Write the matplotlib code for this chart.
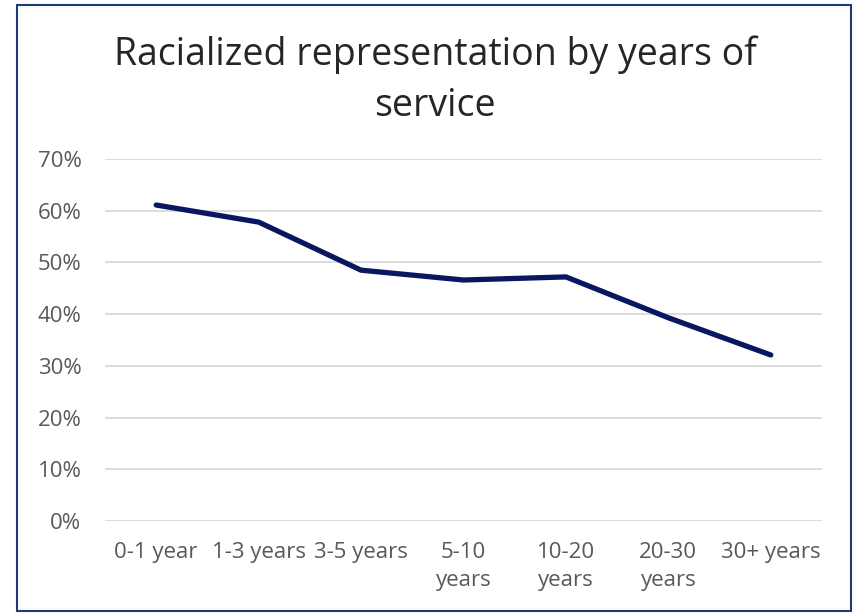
import matplotlib
matplotlib.use("Agg")
import matplotlib.pyplot as plt
from matplotlib.patches import Rectangle
from matplotlib.ticker import FuncFormatter

categories = ["0-1 year", "1-3 years", "3-5 years", "5-10\nyears", "10-20\nyears", "20-30\nyears", "30+ years"]
values = [61.1, 57.8, 48.5, 46.6, 47.2, 39.3, 32.1]
yticks = [0, 10, 20, 30, 40, 50, 60, 70]

plt.rcParams['font.family'] = ['Open Sans', 'DejaVu Sans']

W, H = 856, 613
fig = plt.figure(figsize=(W/100, H/100), dpi=100)
ax = fig.add_axes([105/W, 1-521/H, (822-105)/W, (521-159)/H])

x = list(range(len(categories)))
ax.plot(x, values, color='#0A1660', lw=3.8, solid_capstyle='round', solid_joinstyle='round')
ax.set_xlim(-0.5, len(categories)-0.5)
ax.set_ylim(0, 70)
ax.set_yticks(yticks)
ax.yaxis.set_major_formatter(FuncFormatter(lambda v, p: f"{int(v)}%"))
ax.set_xticks(x)
ax.set_xticklabels(categories, linespacing=1.45)
ax.grid(axis='y', color='#D9D9D9', lw=1.3)
ax.set_axisbelow(True)
for s in ax.spines.values():
    s.set_visible(False)
ax.tick_params(axis='both', length=0, labelsize=16, colors='#595959')
ax.tick_params(axis='x', pad=15)
ax.tick_params(axis='y', pad=17)

fig.text(435/W, 1-55/H, "Racialized representation by years of", ha='center', va='center',
         fontsize=27, color='#262626')
fig.text(435/W, 1-106/H, "service", ha='center', va='center', fontsize=27, color='#262626')

fig.patches.append(Rectangle((16.5/W, 1-611/H), (851-16.5)/W, (611-4.5)/H, transform=fig.transFigure,
                             fill=False, edgecolor='#1F3A78', lw=1.5))

fig.savefig("out.png", dpi=100)
